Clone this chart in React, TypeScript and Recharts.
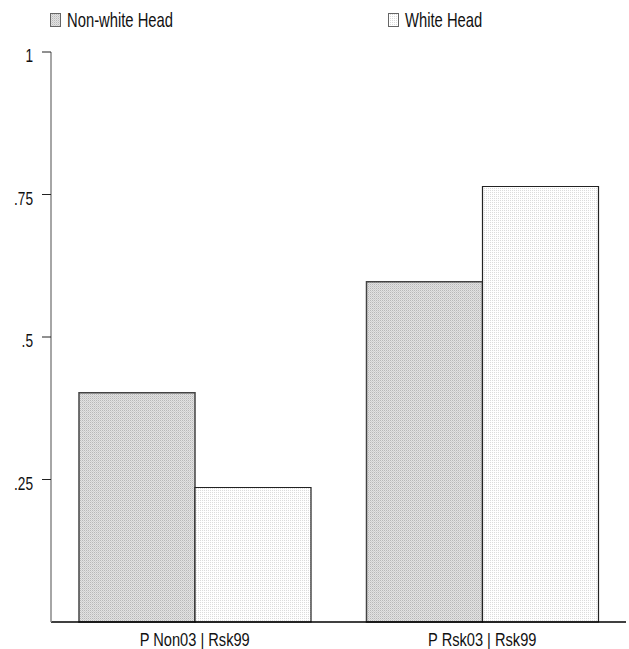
import { Bar, BarChart, XAxis, YAxis } from "recharts";

const categories = ["P Non03 | Rsk99", "P Rsk03 | Rsk99"];
const nonWhiteHead = [0.402, 0.597];
const whiteHead = [0.236, 0.764];
const yTicks = [0.25, 0.5, 0.75, 1];

const data = categories.map((c, i) => ({
  category: c,
  nonWhite: nonWhiteHead[i],
  white: whiteHead[i],
}));

// no narrow face installed, so squeeze Liberation Sans horizontally
const FONT = "'Liberation Sans', Arial, sans-serif";

const legendItems = [
  { label: "Non-white Head", fill: "url(#dotsDark)", left: 50 },
  { label: "White Head", fill: "url(#dotsLight)", left: 388 },
];

function fmtTick(v: number) {
  if (v === 1) return "1";
  return String(v).replace(/^0/, "");
}

function YTick(props: any) {
  const { x, y, payload } = props;
  return (
    <text
      transform={`translate(${x - 2},${y + 10}) scale(0.72,1)`}
      textAnchor="end"
      fontFamily={FONT}
      fontSize={19}
      fill="#111"
    >
      {fmtTick(payload.value)}
    </text>
  );
}

function XTick(props: any) {
  const { x, y, payload } = props;
  return (
    <text
      transform={`translate(${x},${y + 16}) scale(0.77,1)`}
      textAnchor="middle"
      fontFamily={FONT}
      fontSize={19}
      fill="#111"
    >
      {payload.value}
    </text>
  );
}

function TopLegend() {
  return (
    <svg
      width={629}
      height={32}
      style={{ position: "absolute", left: 0, top: 0 }}
    >
      {legendItems.map((it) => (
        <g key={it.label}>
          <rect x={it.left + 0.5} y={13.5} width={10} height={13} fill={it.fill} stroke="#666" />
          <text
            transform={`translate(${it.left + 17},27) scale(0.74,1)`}
            fontFamily={FONT}
            fontSize={20}
            fill="#111"
          >
            {it.label}
          </text>
        </g>
      ))}
    </svg>
  );
}

export default function App() {
  return (
    <div style={{ position: "absolute", left: 0, top: 0, width: 629, height: 649, background: "#fff" }}>
      <BarChart
        width={629}
        height={649}
        data={data}
        margin={{ top: 52, right: 3, left: 0, bottom: 0 }}
        barCategoryGap={28}
        barGap={0}
      >
        <defs>
          <pattern id="dotsDark" width={2} height={2} patternUnits="userSpaceOnUse">
            <rect width={2} height={2} fill="#e2e2e2" />
            <rect width={1} height={1} fill="#b8b8b8" />
            <rect x={1} y={1} width={1} height={1} fill="#cfcfcf" />
          </pattern>
          <pattern id="dotsLight" width={2} height={2} patternUnits="userSpaceOnUse">
            <rect width={2} height={2} fill="#ffffff" />
            <rect width={1} height={1} fill="#dcdcdc" />
          </pattern>
        </defs>
        <XAxis
          dataKey="category"
          height={27}
          tickLine={false}
          axisLine={{ stroke: "#000", strokeWidth: 1.5 }}
          tick={<XTick />}
        />
        <YAxis
          width={51}
          domain={[0, 1]}
          ticks={yTicks}
          tickSize={9}
          tickMargin={7}
          tickLine={{ stroke: "#222" }}
          axisLine={{ stroke: "#888", strokeWidth: 1.5 }}
          tick={<YTick />}
        />
        <Bar
          dataKey="nonWhite"
          name="Non-white Head"
          fill="url(#dotsDark)"
          stroke="#444"
          strokeWidth={1.5}
          isAnimationActive={false}
        />
        <Bar
          dataKey="white"
          name="White Head"
          fill="url(#dotsLight)"
          stroke="#222"
          strokeWidth={1.2}
          isAnimationActive={false}
        />
      </BarChart>
      <TopLegend />
    </div>
  );
}
